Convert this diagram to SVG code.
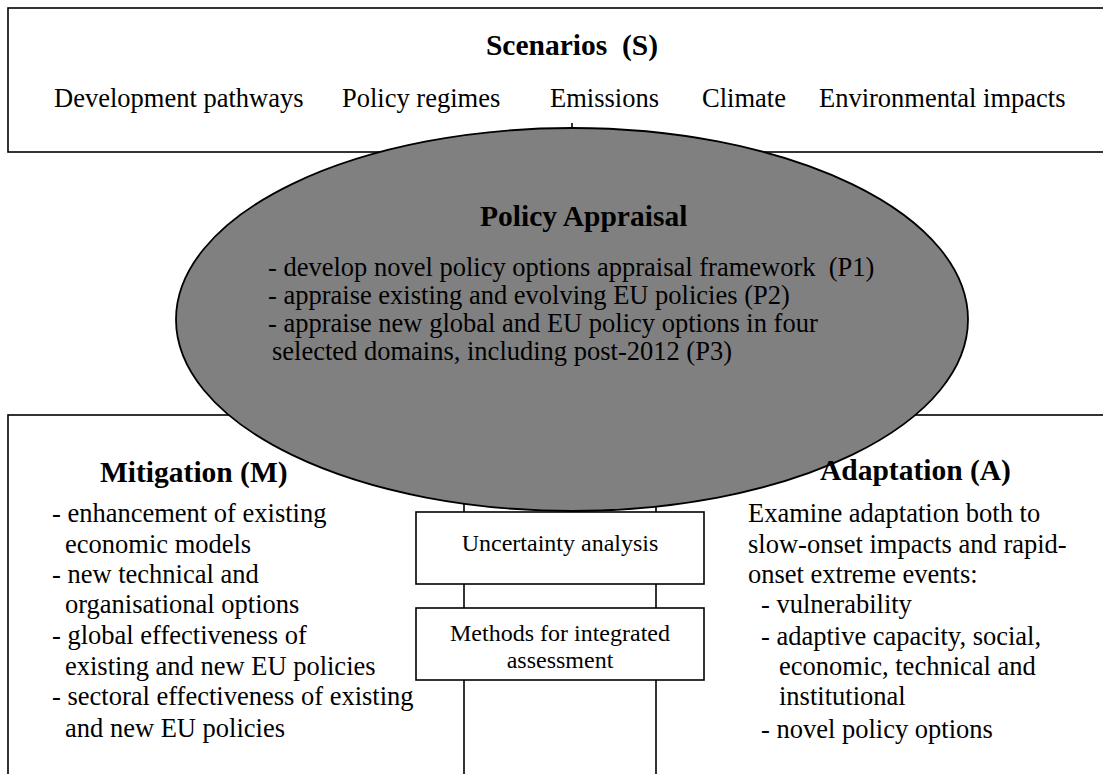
<svg xmlns="http://www.w3.org/2000/svg" width="1103" height="774" viewBox="0 0 1103 774">
  <style>
    .box { fill: #ffffff; stroke: #000000; stroke-width: 1.6; }
    .oval { fill: #808080; stroke: #000000; stroke-width: 1.8; }
    .link { stroke: #000000; stroke-width: 1.6; fill: none; }
    text { font-family: "Liberation Serif", "Times New Roman", serif; fill: #000000; white-space: pre; }
    .head { font-size: 29.5px; font-weight: bold; }
    .body { font-size: 26.5px; }
    .small { font-size: 24px; }
    .mid { text-anchor: middle; }
  </style>

  <!-- Scenarios panel -->
  <g id="scenarios">
    <rect class="box" x="8" y="8" width="1110" height="144"/>
    <text class="head mid" x="572" y="55">Scenarios  (S)</text>
    <text class="body" x="54" y="107">Development pathways</text>
    <text class="body" x="342" y="107">Policy regimes</text>
    <text class="body" x="550" y="107">Emissions</text>
    <text class="body" x="702" y="107">Climate</text>
    <text class="body" x="819" y="107">Environmental impacts</text>
  </g>

  <!-- Mitigation / Adaptation panel -->
  <g id="lower-panel">
    <rect class="box" x="8" y="415" width="1110" height="400"/>
  </g>

  <!-- vertical rails of the central column -->
  <g id="connectors">
    <line class="link" x1="464" y1="415" x2="464" y2="780"/>
    <line class="link" x1="656" y1="415" x2="656" y2="780"/>
    <line class="link" x1="572" y1="123" x2="572" y2="130" stroke-width="0.8"/>
  </g>

  <g id="uncertainty">
    <rect class="box" x="416" y="512" width="288" height="72"/>
    <text class="small mid" x="560" y="551">Uncertainty analysis</text>
  </g>

  <g id="methods">
    <rect class="box" x="416" y="608" width="288" height="72"/>
    <text class="small mid" x="560" y="641">Methods for integrated</text>
    <text class="small mid" x="560" y="668">assessment</text>
  </g>

  <!-- Policy appraisal oval -->
  <g id="policy-appraisal">
    <ellipse class="oval" cx="572" cy="319.5" rx="396" ry="191.5"/>
    <text class="head" x="480" y="226">Policy Appraisal</text>
    <text class="body" x="268" y="276">- develop novel policy options appraisal framework  (P1)</text>
    <text class="body" x="268" y="304">- appraise existing and evolving EU policies (P2)</text>
    <text class="body" x="268" y="332">- appraise new global and EU policy options in four</text>
    <text class="body" x="272" y="360">selected domains, including post-2012 (P3)</text>
  </g>

  <g id="mitigation">
    <text class="head" x="100" y="482">Mitigation (M)</text>
    <text class="body" x="52" y="522">- enhancement of existing</text>
    <text class="body" x="65" y="553">economic models</text>
    <text class="body" x="52" y="583">- new technical and</text>
    <text class="body" x="65" y="613">organisational options</text>
    <text class="body" x="52" y="644">- global effectiveness of</text>
    <text class="body" x="65" y="675">existing and new EU policies</text>
    <text class="body" x="52" y="705">- sectoral effectiveness of existing</text>
    <text class="body" x="65" y="737">and new EU policies</text>
  </g>

  <g id="adaptation">
    <text class="head" x="820" y="480">Adaptation (A)</text>
    <text class="body" x="748" y="522">Examine adaptation both to</text>
    <text class="body" x="748" y="553">slow-onset impacts and rapid-</text>
    <text class="body" x="748" y="583">onset extreme events:</text>
    <text class="body" x="761" y="613">- vulnerability</text>
    <text class="body" x="761" y="645">- adaptive capacity, social,</text>
    <text class="body" x="779" y="675">economic, technical and</text>
    <text class="body" x="779" y="705">institutional</text>
    <text class="body" x="761" y="738">- novel policy options</text>
  </g>
</svg>
